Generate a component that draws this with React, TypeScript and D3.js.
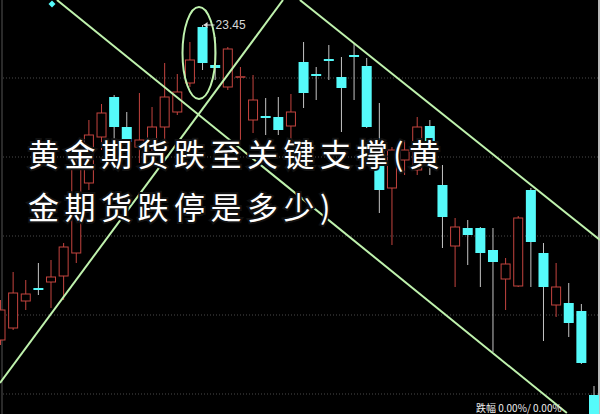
import React from "react";
import * as d3 from "d3";

const W = 600;
const H = 414;

// OHLC values (index = position in the series)
const OPEN = [21.875, 21.935, 22.07, 22.135, 22.165, 22.195, 22.31, 22.66, 22.89, 23.09, 22.94, 22.84, 22.85, 22.94, 23.015, 23.16, 23.44, 23.25, 23.14, 23.185, 22.975, 22.995, 22.99, 22.945, 23.265, 23.205, 23.28, 23.19, 23.3, 23.245, 22.875, 22.635, 22.775, 22.725, 22.945, 22.65, 22.345, 22.435, 22.435, 22.325, 22.18, 22.145, 22.625, 22.31, 22.05, 22.06, 22.02, 21.6];
const HIGH = [22.075, 22.215, 22.175, 22.26, 22.275, 22.36, 22.775, 22.975, 23.055, 23.1, 23.015, 23.11, 23.04, 23.26, 23.205, 23.365, 23.45, 23.39, 23.34, 23.24, 23.2, 23.085, 23.09, 23.105, 23.365, 23.24, 23.35, 23.29, 23.36, 23.285, 23.06, 22.84, 22.875, 22.99, 22.975, 22.75, 22.485, 22.475, 22.44, 22.435, 22.285, 22.495, 22.635, 22.36, 22.26, 22.16, 22.055, 21.645];
const LOW = [21.85, 21.925, 22.025, 22.1, 22.035, 22.075, 22.26, 22.625, 22.825, 22.875, 22.825, 22.76, 22.775, 22.875, 23.0, 23.14, 23.225, 23.175, 23.125, 22.875, 22.91, 22.9, 22.9, 22.85, 23.035, 23.075, 23.175, 22.915, 23.075, 22.935, 22.51, 22.35, 22.7, 22.7, 22.7, 22.335, 22.14, 22.25, 22.14, 21.815, 22.025, 22.14, 22.14, 21.87, 21.99, 21.89, 21.755, 21.475];
const CLOSE = [22.025, 22.11, 22.105, 22.125, 22.19, 22.34, 22.735, 22.9, 23.01, 22.94, 22.865, 22.875, 22.94, 23.09, 23.115, 23.275, 23.26, 23.235, 23.33, 23.195, 23.075, 22.985, 22.925, 23.015, 23.11, 23.195, 23.27, 23.135, 23.29, 22.94, 22.625, 22.825, 22.825, 22.94, 22.75, 22.49, 22.44, 22.4, 22.31, 22.265, 22.255, 22.485, 22.365, 22.14, 22.14, 21.96, 21.76, 21.475];

// dotted horizontal grid levels
const GRID = [23.185, 22.79, 22.395, 22.0, 21.605];

// hand-drawn trend lines: [index, price] endpoints
const TREND_A: [number, number][] = [[4.47, 23.575], [44.85, 21.51]];
const TREND_B: [number, number][] = [[-0.04, 21.66], [22.37, 23.575]];
const TREND_C: [number, number][] = [[23.71, 23.575], [47.47, 22.375]];
const TRENDS = [TREND_A, TREND_B, TREND_C];

// ellipse highlighting the peak: centre [index, price]
const ELLIPSE_CENTER: [number, number] = [15.72, 23.31];
const PEAK_INDEX = 16;
const PEAK_LABEL = "23.45";
const MARKER: [number, number] = [4.08, 23.555];

const TITLE_1 = "黄金期货跌至关键支撑(黄";
const TITLE_2 = "金期货跌停是多少)";
const FOOT = "跌幅 0.00%/ 0.00%";

const RED = "#c4443f";
const CYAN = "#55fafa";
const WICK = "#c4c4c4";
const GREEN = "#bff2ad";

export default function App() {
  const x = d3.scaleLinear().domain([0, 47]).range([0.5, 594]);
  const y = d3.scaleLinear().domain([21.505, 23.575]).range([H, 0]);
  const bw = 10;
  const lineGen = d3
    .line<[number, number]>()
    .x((d) => x(d[0]))
    .y((d) => y(d[1]));

  const candles = OPEN.map((o, i) => ({ i, o, h: HIGH[i], l: LOW[i], c: CLOSE[i] }));

  return (
    <svg
      width={W}
      height={H}
      style={{ position: "fixed", left: 0, top: 0, background: "#000", display: "block" }}
    >
      <rect x={0} y={0} width={W} height={H} fill="#000" />
      {GRID.map((g, k) => (
        <line
          key={"g" + k}
          x1={3}
          x2={W - 2}
          y1={y(g)}
          y2={y(g)}
          stroke="#4a4a4a"
          strokeWidth={1}
          strokeDasharray="1 2"
        />
      ))}
      <line x1={2} x2={2} y1={0} y2={H} stroke="#555" strokeWidth={1} />
      <line x1={599} x2={599} y1={0} y2={H} stroke="#bbb" strokeWidth={2} />

      {candles.map((d) => {
        const cx = x(d.i);
        const up = d.c >= d.o;
        const top = y(Math.max(d.o, d.c));
        const bot = y(Math.min(d.o, d.c));
        const bh = bot - top;
        const doji = bh < 3;
        if (up) {
          return (
            <g key={d.i}>
              <line x1={cx} x2={cx} y1={y(d.h)} y2={top} stroke={RED} strokeWidth={1} />
              <line x1={cx} x2={cx} y1={bot} y2={y(d.l)} stroke={RED} strokeWidth={1} />
              {doji ? (
                <line x1={cx - bw / 2} x2={cx + bw / 2} y1={(top + bot) / 2} y2={(top + bot) / 2} stroke={RED} strokeWidth={1.5} />
              ) : (
                <rect x={cx - bw / 2 + 0.5} y={top} width={bw - 1} height={bh} fill="#000" stroke={RED} strokeWidth={1} />
              )}
            </g>
          );
        }
        return (
          <g key={d.i}>
            <line x1={cx} x2={cx} y1={y(d.h)} y2={y(d.l)} stroke={WICK} strokeWidth={1} />
            {doji ? (
              <line x1={cx - bw / 2} x2={cx + bw / 2} y1={(top + bot) / 2} y2={(top + bot) / 2} stroke={CYAN} strokeWidth={2} />
            ) : (
              <rect x={cx - bw / 2} y={top} width={bw} height={bh} fill={CYAN} />
            )}
          </g>
        );
      })}

      {TRENDS.map((t, k) => (
        <path key={"t" + k} d={lineGen(t) || ""} stroke={GREEN} strokeWidth={2} fill="none" />
      ))}
      <ellipse
        cx={x(ELLIPSE_CENTER[0])}
        cy={y(ELLIPSE_CENTER[1])}
        rx={16.5}
        ry={46}
        fill="none"
        stroke={GREEN}
        strokeWidth={2}
      />
      <path
        d={`M${x(MARKER[0])},${y(MARKER[1]) - 3.5} l3.5,3.5 l-3.5,3.5 l-3.5,-3.5 z`}
        fill={CYAN}
      />

      <g fill="#ddd" stroke="#ddd">
        <line x1={x(PEAK_INDEX) + 1} x2={x(PEAK_INDEX) + 12} y1={y(HIGH[PEAK_INDEX])} y2={y(HIGH[PEAK_INDEX])} strokeWidth={1} />
        <path d={`M${x(PEAK_INDEX) + 1},${y(HIGH[PEAK_INDEX])} l4,-3 l0,6 z`} stroke="none" />
      </g>
      <text
        x={x(PEAK_INDEX) + 13}
        y={y(HIGH[PEAK_INDEX]) + 4}
        fill="#d8d8d8"
        fontSize={12}
        fontFamily="Liberation Sans, Arial, sans-serif"
      >
        {PEAK_LABEL}
      </text>

      <g
        fontFamily="'Noto Sans CJK SC', sans-serif"
        fontSize={31}
        fill="#fff"
        stroke="#111"
        strokeWidth={4}
        style={{ paintOrder: "stroke" }}
        letterSpacing={5.5}
      >
        <text x={28} y={166}>{TITLE_1}</text>
        <text x={28} y={219}>{TITLE_2}</text>
      </g>
      <text
        x={476}
        y={412}
        fill="#eee"
        fontSize={10}
        fontFamily="'Noto Sans CJK SC', sans-serif"
      >
        {FOOT}
      </text>
    </svg>
  );
}
